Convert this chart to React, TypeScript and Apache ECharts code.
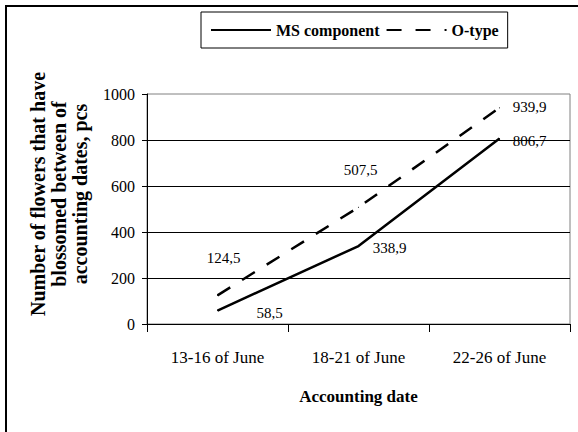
import React, { useEffect, useRef } from "react";
import * as echarts from "echarts";

const categories = ["13-16 of June", "18-21 of June", "22-26 of June"];
const msComponent = [58.5, 338.9, 806.7];
const oType = [124.5, 507.5, 939.9];
const msLabels = ["58,5", "338,9", "806,7"];
const oLabels = ["124,5", "507,5", "939,9"];
const yTicks = { min: 0, max: 1000, interval: 200 };
const yTitle = "Number of flowers that have\nblossomed between of\naccounting dates, pcs";

const FONT = "'Liberation Serif', 'Times New Roman', serif";

export default function App() {
  const ref = useRef<HTMLDivElement>(null);
  useEffect(() => {
    document.body.style.margin = "0";
    const chart = echarts.init(ref.current!, null, { renderer: "svg" });
    const msOffsets = [[52, 2], [31, 2], [30, 3]];
    const oOffsets = [[6, -37], [2, -37], [30, -1]];
    chart.setOption({
      animation: false,
      backgroundColor: "#ffffff",
      textStyle: { fontFamily: FONT, color: "#000" },
      graphic: [
        {
          type: "rect",
          shape: { x: 6, y: 6, width: 640, height: 500 },
          style: { fill: "none", stroke: "#000", lineWidth: 2 },
          silent: true,
        },
        {
          type: "text",
          x: 59,
          y: 194,
          rotation: Math.PI / 2,
          silent: true,
          style: {
            text: yTitle,
            fontFamily: FONT,
            fontWeight: "bold",
            fontSize: 20,
            lineHeight: 21,
            fill: "#000",
            align: "center",
            verticalAlign: "middle",
          },
        },
      ],
      legend: {
        left: 201,
        top: 12,
        padding: [10, 9],
        itemWidth: 60,
        itemHeight: 14,
        itemGap: 6,
        borderColor: "#000",
        borderWidth: 1,
        itemStyle: { opacity: 0 },
        textStyle: { fontFamily: FONT, fontWeight: "bold", fontSize: 16, color: "#000" },
        data: ["MS component", "O-type"],
      },
      grid: {
        left: 147,
        right: 8,
        top: 94,
        bottom: 108,
        show: true,
        borderColor: "#808080",
        borderWidth: 1,
      },
      xAxis: {
        type: "category",
        data: categories,
        boundaryGap: true,
        name: "Accounting date",
        nameLocation: "middle",
        nameGap: 64,
        nameTextStyle: { fontFamily: FONT, fontWeight: "bold", fontSize: 17, color: "#000" },
        axisLine: { lineStyle: { color: "#000", width: 1 } },
        axisTick: { show: true, length: 8, lineStyle: { color: "#000" } },
        axisLabel: { margin: 25, fontFamily: FONT, fontSize: 17, color: "#000" },
        splitLine: { show: false },
      },
      yAxis: {
        type: "value",
        min: yTicks.min,
        max: yTicks.max,
        interval: yTicks.interval,
        axisLine: { show: true, lineStyle: { color: "#000", width: 1 } },
        axisTick: { show: true, length: 5, lineStyle: { color: "#000" } },
        axisLabel: {
          margin: 12,
          fontFamily: FONT,
          fontSize: 16,
          color: "#000",
          formatter: (v: number) => String(v),
        },
        splitLine: { show: true, showMaxLine: false, lineStyle: { color: "#000", width: 1 } },
      },
      series: [
        {
          name: "MS component",
          type: "line",
          symbol: "circle",
          symbolSize: 1,
          lineStyle: { color: "#000", width: 2.5, type: "solid" },
          itemStyle: { color: "#000" },
          data: msComponent.map((v, i) => ({
            value: v,
            label: {
              show: true,
              position: "inside",
              offset: msOffsets[i],
              formatter: msLabels[i],
            },
          })),
          label: { fontFamily: FONT, fontSize: 15, color: "#000" },
        },
        {
          name: "O-type",
          type: "line",
          symbol: "circle",
          symbolSize: 1,
          lineStyle: { color: "#000", width: 2.5, type: [15, 14] },
          itemStyle: { color: "#000" },
          data: oType.map((v, i) => ({
            value: v,
            label: {
              show: true,
              position: "inside",
              offset: oOffsets[i],
              formatter: oLabels[i],
            },
          })),
          label: { fontFamily: FONT, fontSize: 15, color: "#000" },
        },
      ],
    });
    return () => chart.dispose();
  }, []);
  return <div ref={ref} style={{ width: 578, height: 432 }} />;
}
